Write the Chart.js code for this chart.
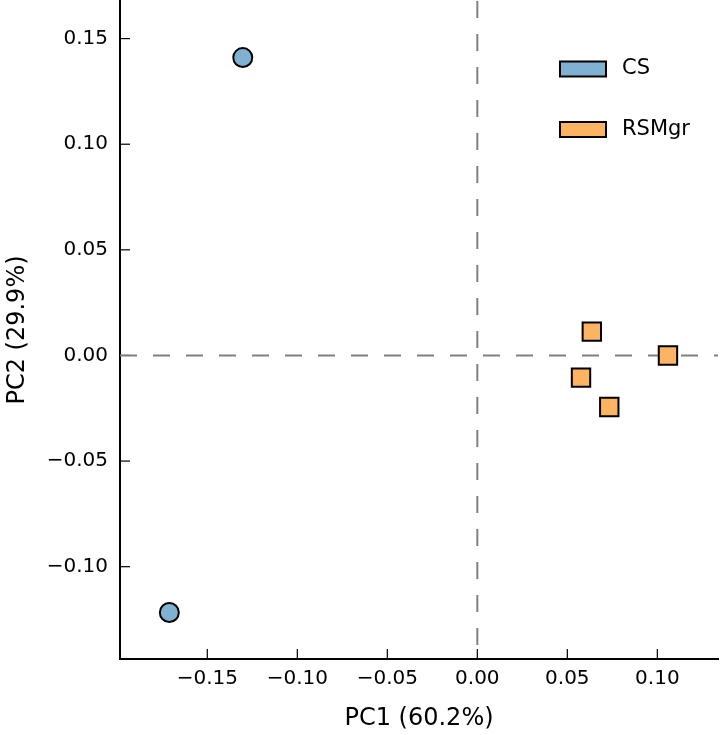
<!DOCTYPE html>
<html>
<head>
<meta charset="utf-8">
<script src="https://cdn.jsdelivr.net/npm/chart.js@4"></script>
<style>
  html, body { margin: 0; padding: 0; background: #fff; }
  #wrap { width: 720px; height: 735px; }
</style>
</head>
<body>
<div id="wrap"><canvas id="pcaChart"></canvas></div>
<script>
// PCA scores
const groups = ["CS", "RSMgr"];
const csPC1 = [-0.1303, -0.1711];
const csPC2 = [0.1410, -0.1217];
const rsPC1 = [0.0636, 0.1059, 0.0576, 0.0733];
const rsPC2 = [0.0113, 0.0, -0.0105, -0.0244];
const xTickValues = [-0.15, -0.10, -0.05, 0, 0.05, 0.10];
const yTickValues = [-0.10, -0.05, 0, 0.05, 0.10, 0.15];
const xTitle = "PC1 (60.2%)";
const yTitle = "PC2 (29.9%)";

const blue = "#80b1d3";
const orange = "#fdb462";

Chart.defaults.font.family = "'DejaVu Sans', sans-serif";
Chart.defaults.color = "#000";

const fmt = (v) => {
  if (Math.abs(v) < 1e-9) return "0.00";
  return (v < 0 ? "\u2212" : "") + Math.abs(v).toFixed(2);
};

const toPoints = (xs, ys) => xs.map((x, i) => ({ x: x, y: ys[i] }));

// matplotlib style ticks pointing into the plot
const innerTicks = {
  id: "innerTicks",
  beforeDatasetsDraw(chart) {
    const { ctx, chartArea, scales } = chart;
    ctx.save();
    ctx.strokeStyle = "#000";
    ctx.lineWidth = 1.2;
    scales.x.ticks.forEach((t) => {
      const px = scales.x.getPixelForValue(t.value);
      ctx.beginPath();
      ctx.moveTo(px, chartArea.bottom);
      ctx.lineTo(px, chartArea.bottom - 10);
      ctx.stroke();
    });
    scales.y.ticks.forEach((t) => {
      const py = scales.y.getPixelForValue(t.value);
      ctx.beginPath();
      ctx.moveTo(chartArea.left, py);
      ctx.lineTo(chartArea.left + 10, py);
      ctx.stroke();
    });
    ctx.restore();
  },
};

// dashed lines through the origin
const zeroLines = {
  id: "zeroLines",
  beforeDatasetsDraw(chart) {
    const { ctx, chartArea, scales } = chart;
    const x0 = scales.x.getPixelForValue(0);
    const y0 = scales.y.getPixelForValue(0);
    ctx.save();
    ctx.strokeStyle = "#808080";
    ctx.lineWidth = 2;
    ctx.setLineDash([17, 16]);
    ctx.beginPath();
    ctx.moveTo(chartArea.left, y0);
    ctx.lineTo(chartArea.right, y0);
    ctx.stroke();
    ctx.beginPath();
    ctx.moveTo(x0, chartArea.top);
    ctx.lineTo(x0, chartArea.bottom);
    ctx.stroke();
    ctx.restore();
  },
};

// legend inside the plot, top right
const boxLegend = {
  id: "boxLegend",
  afterDraw(chart) {
    const { ctx } = chart;
    ctx.save();
    ctx.font = "21px 'DejaVu Sans'";
    ctx.textBaseline = "middle";
    ctx.textAlign = "left";
    chart.data.datasets.forEach((ds, i) => {
      const cy = 69 + i * 60.5;
      ctx.fillStyle = ds.backgroundColor;
      ctx.fillRect(560, cy - 7.5, 46, 15);
      ctx.strokeStyle = "#000";
      ctx.lineWidth = 2;
      ctx.strokeRect(560, cy - 7.5, 46, 15);
      ctx.fillStyle = "#000";
      ctx.fillText(ds.label, 622, cy);
    });
    ctx.restore();
  },
};

new Chart(document.getElementById("pcaChart"), {
  type: "scatter",
  data: {
    datasets: [
      {
        label: groups[0],
        data: toPoints(csPC1, csPC2),
        pointStyle: "circle",
        pointRadius: 9.5,
        pointHoverRadius: 9.5,
        backgroundColor: blue,
        borderColor: "#000",
        borderWidth: 2,
      },
      {
        label: groups[1],
        data: toPoints(rsPC1, rsPC2),
        pointStyle: "rect",
        pointRadius: 13,
        pointHoverRadius: 13,
        backgroundColor: orange,
        borderColor: "#000",
        borderWidth: 2,
      },
    ],
  },
  options: {
    responsive: true,
    maintainAspectRatio: false,
    animation: false,
    layout: { autoPadding: false, padding: { top: 1, right: 2, left: 0, bottom: 0 } },
    plugins: {
      legend: { display: false },
      tooltip: { enabled: false },
    },
    scales: {
      x: {
        type: "linear",
        min: -0.1985,
        max: 0.1337,
        afterBuildTicks: (scale) => {
          scale.ticks = xTickValues.map((v) => ({ value: v }));
        },
        afterFit: (scale) => {
          scale.height = 76;
          scale.paddingLeft = 0;
          scale.paddingRight = 0;
        },
        grid: { display: false, drawTicks: false },
        border: { display: true, color: "#000", width: 2 },
        ticks: {
          padding: 8,
          font: { size: 20 },
          maxRotation: 0,
          callback: (v) => fmt(v),
        },
        title: {
          display: true,
          text: xTitle,
          font: { size: 24 },
          padding: { top: 0, bottom: 2 },
        },
      },
      y: {
        type: "linear",
        min: -0.1437,
        max: 0.1678,
        afterBuildTicks: (scale) => {
          scale.ticks = yTickValues.map((v) => ({ value: v }));
        },
        afterFit: (scale) => {
          scale.width = 120;
          scale.paddingTop = 0;
          scale.paddingBottom = 0;
        },
        grid: { display: false, drawTicks: false },
        border: { display: true, color: "#000", width: 2 },
        ticks: {
          padding: 12,
          font: { size: 20 },
          callback: (v) => fmt(v),
        },
        title: {
          display: true,
          text: yTitle,
          font: { size: 24 },
          padding: { top: 3, bottom: 0 },
        },
      },
    },
  },
  plugins: [innerTicks, zeroLines, boxLegend],
});
</script>
</body>
</html>
